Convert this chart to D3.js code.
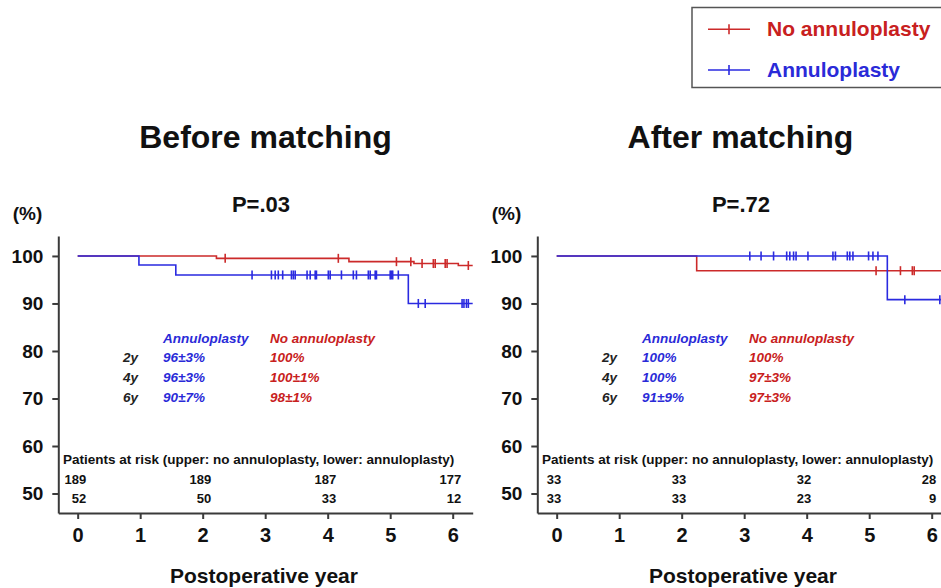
<!DOCTYPE html>
<html>
<head>
<meta charset="utf-8">
<script src="https://cdn.jsdelivr.net/npm/d3@7"></script>
<style>
  html, body { margin: 0; padding: 0; background: #fff; }
  svg { display: block; }
  text { font-family: "Liberation Sans", Arial, Helvetica, sans-serif; }
</style>
</head>
<body>
<svg id="chart" width="941" height="588"></svg>
<script>
// ---------- data ----------
const timeTicks = [0, 1, 2, 3, 4, 5, 6];
const yTicks = [50, 60, 70, 80, 90, 100];
const panelTitles = ["Before matching", "After matching"];
const pValues = ["P=.03", "P=.72"];
const seriesNames = ["No annuloplasty", "Annuloplasty"];

// Before matching – No annuloplasty (step times / survival %)
const beforeNoStepT = [0, 2.22, 4.34, 5.38, 6.09];
const beforeNoStepV = [100, 99.5, 98.8, 98.4, 98.0];
const beforeNoCensor = [2.36, 4.17, 5.10, 5.33, 5.51, 5.69, 5.72, 5.88, 5.91, 6.25];
// Before matching – Annuloplasty
const beforeAnnStepT = [0, 0.98, 1.57, 5.29];
const beforeAnnStepV = [100, 98.1, 96.0, 90.0];
const beforeAnnCensor = [2.79, 3.10, 3.16, 3.21, 3.28, 3.42, 3.45, 3.48, 3.67, 3.72, 3.80, 3.82,
  4.01, 4.04, 4.22, 4.41, 4.46, 4.65, 4.68, 4.76, 4.78, 5.00, 5.02, 5.04, 5.13, 5.45, 5.56,
  6.15, 6.18, 6.22, 6.25];
// After matching – No annuloplasty
const afterNoStepT = [0, 2.24];
const afterNoStepV = [100, 96.9];
const afterNoCensor = [5.11, 5.50, 5.69, 5.72];
// After matching – Annuloplasty
const afterAnnStepT = [0, 5.29];
const afterAnnStepV = [100, 90.8];
const afterAnnCensor = [3.09, 3.27, 3.47, 3.68, 3.73, 3.79, 3.83, 4.02, 4.42, 4.46, 4.65, 4.69,
  4.74, 4.99, 5.06, 5.14, 5.57, 6.13];

// survival table
const tableRows = ["2y", "4y", "6y"];
const beforeAnnTable = ["96±3%", "96±3%", "90±7%"];
const beforeNoTable = ["100%", "100±1%", "98±1%"];
const afterAnnTable = ["100%", "100%", "91±9%"];
const afterNoTable = ["100%", "97±3%", "97±3%"];

// patients at risk
const riskTimes = [0, 2, 4, 6];
const beforeRiskNo = [189, 189, 187, 177];
const beforeRiskAnn = [52, 50, 33, 12];
const afterRiskNo = [33, 33, 32, 28];
const afterRiskAnn = [33, 33, 23, 9];

// ---------- styling ----------
const RED = "#cc2a2a", BLUE = "#2a2ae0";
const RED_TXT = "#c82020", BLUE_TXT = "#2a2ad8";
const AXIS = "#3a3a3a";

const svg = d3.select("#chart");

const panels = [
  { off: 0, title: panelTitles[0], p: pValues[0], titleX: 265.5, pX: 261,
    no: [beforeNoStepT, beforeNoStepV, beforeNoCensor], ann: [beforeAnnStepT, beforeAnnStepV, beforeAnnCensor],
    tabAnn: beforeAnnTable, tabNo: beforeNoTable, riskNo: beforeRiskNo, riskAnn: beforeRiskAnn, riskDx: 8.5 },
  { off: 479, title: panelTitles[1], p: pValues[1], titleX: 740.5, pX: 741,
    no: [afterNoStepT, afterNoStepV, afterNoCensor], ann: [afterAnnStepT, afterAnnStepV, afterAnnCensor],
    tabAnn: afterAnnTable, tabNo: afterNoTable, riskNo: afterRiskNo, riskAnn: afterRiskAnn, riskDx: 4.5 }
];

const xMin = -0.31, xMax = 6.32;
const yMin = 45.9, yMax = 104.2;

panels.forEach(P => {
  const g = svg.append("g");
  const x = d3.scaleLinear().domain([xMin, xMax]).range([58.3 + P.off, 472.7 + P.off]);
  const y = d3.scaleLinear().domain([yMin, yMax]).range([513, 236]);

  // titles
  g.append("text").attr("x", P.titleX).attr("y", 147.5).attr("text-anchor", "middle")
    .attr("font-size", 32).attr("font-weight", "bold").attr("fill", "#111").text(P.title);
  g.append("text").attr("x", P.pX).attr("y", 211.7).attr("text-anchor", "middle")
    .attr("font-size", 22).attr("font-weight", "bold").attr("fill", "#111").text(P.p);
  g.append("text").attr("x", 27.5 + P.off).attr("y", 220).attr("text-anchor", "middle")
    .attr("font-size", 19).attr("font-weight", "bold").attr("fill", "#111").text("(%)");

  // axes
  const xAxis = d3.axisBottom(x).tickValues(timeTicks).tickSize(6).tickSizeOuter(0).tickPadding(9)
    .tickFormat(d3.format("d"));
  const gx = g.append("g").attr("transform", `translate(0,${y(yMin)})`).call(xAxis);
  gx.selectAll("text").attr("font-size", 20).attr("font-weight", "bold").attr("fill", "#111")
    .attr("font-family", '"Liberation Sans", Arial, sans-serif');

  const yAxis = d3.axisLeft(y).tickValues(yTicks).tickSize(6).tickSizeOuter(0).tickPadding(9);
  const gy = g.append("g").attr("transform", `translate(${x(xMin)},0)`).call(yAxis);
  gy.selectAll("text").attr("font-size", 19).attr("font-weight", "bold").attr("fill", "#111")
    .attr("font-family", '"Liberation Sans", Arial, sans-serif');

  [gx, gy].forEach(a => {
    a.select(".domain").attr("stroke", AXIS).attr("stroke-width", 2);
    a.selectAll(".tick line").attr("stroke", AXIS).attr("stroke-width", 2);
  });

  g.append("text").attr("x", 264 + P.off).attr("y", 583).attr("text-anchor", "middle")
    .attr("font-size", 21).attr("font-weight", "bold").attr("fill", "#111").text("Postoperative year");

  // curves
  const line = d3.line().x(d => x(d[0])).y(d => y(d[1])).curve(d3.curveStepAfter);
  function drawSeries(s, color) {
    const [ts, vs, cs] = s;
    const pts = ts.map((t, i) => [t, vs[i]]);
    pts.push([xMax, vs[vs.length - 1]]);
    g.append("path").datum(pts).attr("d", line).attr("fill", "none")
      .attr("stroke", color).attr("stroke-width", 1.6);
    const valAt = t => { let v = vs[0]; ts.forEach((tt, i) => { if (tt <= t) v = vs[i]; }); return v; };
    g.selectAll(null).data(cs).enter().append("line")
      .attr("x1", d => x(d)).attr("x2", d => x(d))
      .attr("y1", d => y(valAt(d)) - 4.5).attr("y2", d => y(valAt(d)) + 4.5)
      .attr("stroke", color).attr("stroke-width", 1.6);
  }
  drawSeries(P.no, RED);
  drawSeries(P.ann, BLUE);

  // survival table
  const colAnn = 163 + P.off, colNo = 270 + P.off, colLab = 123 + P.off;
  const tx = g.append("g").attr("font-size", 13.5).attr("font-weight", "bold").attr("font-style", "italic");
  tx.append("text").attr("x", colAnn).attr("y", 342.7).attr("fill", BLUE_TXT).text(seriesNames[1]);
  tx.append("text").attr("x", colNo).attr("y", 342.7).attr("fill", RED_TXT).text(seriesNames[0]);
  tableRows.forEach((r, i) => {
    const yy = 361.7 + i * 20;
    tx.append("text").attr("x", colLab).attr("y", yy).attr("fill", "#222").text(r);
    tx.append("text").attr("x", colAnn).attr("y", yy).attr("fill", BLUE_TXT).text(P.tabAnn[i]);
    tx.append("text").attr("x", colNo).attr("y", yy).attr("fill", RED_TXT).text(P.tabNo[i]);
  });

  // patients at risk
  g.append("text").attr("x", 63 + P.off).attr("y", 464).attr("font-size", 13.5)
    .attr("font-weight", "bold").attr("fill", "#111")
    .text("Patients at risk (upper: no annuloplasty, lower: annuloplasty)");
  const rk = g.append("g").attr("font-size", 13).attr("font-weight", "bold").attr("fill", "#111")
    .attr("text-anchor", "end");
  riskTimes.forEach((t, i) => {
    rk.append("text").attr("x", x(t) + P.riskDx).attr("y", 484).text(P.riskNo[i]);
    rk.append("text").attr("x", x(t) + P.riskDx).attr("y", 502.7).text(P.riskAnn[i]);
  });
});

// legend
const lg = svg.append("g");
lg.append("rect").attr("x", 692).attr("y", 7.5).attr("width", 280).attr("height", 80)
  .attr("fill", "#fff").attr("stroke", "#555").attr("stroke-width", 1.5);
[[RED, RED_TXT, seriesNames[0], 29.3, 35.5], [BLUE, BLUE_TXT, seriesNames[1], 70, 76.5]].forEach(([c, tc, name, ly, ty]) => {
  lg.append("line").attr("x1", 708).attr("x2", 750).attr("y1", ly).attr("y2", ly)
    .attr("stroke", c).attr("stroke-width", 1.6);
  lg.append("line").attr("x1", 729).attr("x2", 729).attr("y1", ly - 5).attr("y2", ly + 5)
    .attr("stroke", c).attr("stroke-width", 1.6);
  lg.append("text").attr("x", 767).attr("y", ty).attr("font-size", 21).attr("font-weight", "bold")
    .attr("fill", tc).text(name);
});
</script>
</body>
</html>
